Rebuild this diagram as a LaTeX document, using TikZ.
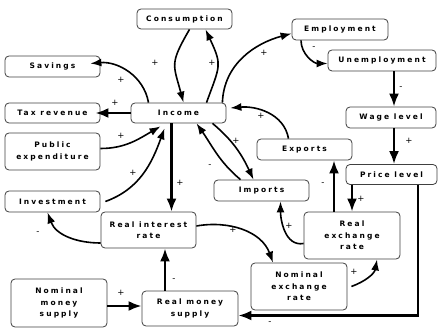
\documentclass[tikz,border=0pt]{standalone}
\usepackage{fontspec}
\usetikzlibrary{arrows.meta}
\newfontfamily\boxfont{DejaVu Sans}[LetterSpace=28]
\newfontfamily\signfont{DejaVu Sans}

\begin{document}
\begin{tikzpicture}[x=1pt,y=-1pt,
  box/.style={draw=black!75,line width=0.8pt,rounded corners=4pt,fill=white,align=center,inner sep=1pt,font=\boxfont\bfseries\fontsize{7.5}{11.5}\selectfont},
  link/.style={line width=1.6pt,-{Latex[length=11pt,width=8pt]}},
  flow/.style={line width=2.4pt,-{Latex[length=13pt,width=10pt]}},
  sign/.style={font=\signfont\fontsize{8.5}{9}\selectfont,inner sep=0pt}]
\useasboundingbox (0,0) rectangle (438,328);
\node[box,minimum width=95pt,minimum height=20pt] (cons) at (184.5,19) {Consumption};
\node[box,minimum width=96pt,minimum height=21pt] (empl) at (340,29.5) {Employment};
\node[box,minimum width=108pt,minimum height=21pt] (unempl) at (382,60.5) {Unemployment};
\node[box,minimum width=90pt,minimum height=21pt] (wage) at (391,117.5) {Wage level};
\node[box,minimum width=91pt,minimum height=20pt] (price) at (391.5,174.5) {Price level};
\node[box,minimum width=95pt,minimum height=21pt] (exports) at (304.5,149.5) {Exports};
\node[box,minimum width=95pt,minimum height=21pt] (savings) at (52.5,66.5) {Savings};
\node[box,minimum width=95pt,minimum height=20pt] (taxrev) at (52.5,113) {Tax revenue};
\node[box,minimum width=95pt,minimum height=20pt] (income) at (178.5,113) {Income};
\node[box,minimum width=95pt,minimum height=37pt] (pubexp) at (52.5,151.5) {Public\\expenditure};
\node[box,minimum width=95pt,minimum height=21pt] (invest) at (52.5,201.5) {Investment};
\node[box,minimum width=95pt,minimum height=36pt] (rir) at (148.5,230) {Real interest\\rate};
\node[box,minimum width=95pt,minimum height=21pt] (imports) at (261.5,190.5) {Imports};
\node[box,minimum width=96pt,minimum height=47pt] (rer) at (352,235.5) {Real\\exchange\\rate};
\node[box,minimum width=96pt,minimum height=47pt] (ner) at (299,286.5) {Nominal\\exchange\\rate};
\node[box,minimum width=96pt,minimum height=48pt] (nms) at (59,303) {Nominal\\money\\supply};
\node[box,minimum width=96pt,minimum height=35pt] (rms) at (190,308.5) {Real money\\supply};

\draw[link] ([xshift=5pt]cons.south) to[out=240,in=105,looseness=1.4] ([xshift=5pt]income.north);
\draw[link] ([xshift=28pt]income.north) to[out=70,in=-65,looseness=1.4] ([xshift=21pt]cons.south);
\draw[link] ([xshift=-4pt]income.north east) to[out=88,in=195] ([yshift=-4pt]empl.west);
\draw[link] ([xshift=-39pt]empl.south) to[out=-90,in=180] ([yshift=-3pt]unempl.west);
\draw[flow] ([xshift=3pt]wage.north |- unempl.south) -- ([xshift=3pt]wage.north);
\draw[flow] ([xshift=3pt]wage.south) -- ([xshift=3pt]wage.south |- price.north);
\draw[flow] (rer.north |- price.south) -- (rer.north);
\draw[flow] ([xshift=26.5pt]price.south) |- ([yshift=-7pt]rms.east);
\draw[flow] ([xshift=-18pt]rer.north) -- ([xshift=-18pt]rer.north |- exports.south);
\draw[link] ([xshift=-16pt]exports.north) to[out=100,in=5] ([xshift=4pt,yshift=5pt]income.east);
\draw[link] ([xshift=34pt]income.south) to[out=-40,in=115] ([xshift=-8pt]imports.north);
\draw[link] ([xshift=-21pt]imports.north) to[out=140,in=-55] ([xshift=18pt]income.south);
\draw[link] ([yshift=-8pt]rer.west) to[out=190,in=-90] ([xshift=19pt]imports.south);
\draw[link] ([xshift=4pt]ner.east) to[out=20,in=-100] ([xshift=25pt]rer.south);
\draw[link] ([yshift=4pt]rir.east) to[out=10,in=110] ([xshift=-26pt]ner.north);
\draw[flow] ([xshift=-7pt]income.south) -- ([xshift=-7pt]income.south |- rir.north);
\draw[link] ([yshift=-13pt]rir.west) to[out=180,in=-70] ([xshift=-5pt]invest.south);
\draw[link] ([xshift=5pt]invest.east) to[out=20,in=-110] ([xshift=-14pt,yshift=-5pt]income.south);
\draw[link] ([yshift=3pt]pubexp.east) to[out=0,in=-150] ([xshift=-18pt,yshift=-3pt]income.south);
\draw[flow] (income.west) -- ([xshift=-5pt]taxrev.east);
\draw[link] ([xshift=-30pt]income.north) to[out=100,in=5] ([xshift=-10pt,yshift=3pt]savings.east);
\draw[flow] ([xshift=-25pt]rms.north) -- ([xshift=-25pt]rms.north |- rir.south);
\draw[flow] ([yshift=-3pt]nms.east) -- ([yshift=-3pt]nms.east -| rms.west);

\node[sign] (s1) at (155,63) {+};
\node[sign] (s2) at (212,63) {+};
\node[sign] (s3) at (264,53) {+};
\node[sign] (s4) at (314,48) {-};
\node[sign] (s5) at (401,88) {-};
\node[sign] (s6) at (409,141) {+};
\node[sign] (s7) at (361,199) {+};
\node[sign] (s8) at (323,184) {-};
\node[sign] (s9) at (261,116) {+};
\node[sign] (s10) at (236,141) {+};
\node[sign] (s11) at (210,166) {-};
\node[sign] (s12) at (289,226) {+};
\node[sign] (s13) at (354,272) {+};
\node[sign] (s14) at (233,230) {+};
\node[sign] (s15) at (180,183) {+};
\node[sign] (s16) at (38,233) {-};
\node[sign] (s17) at (133,173) {+};
\node[sign] (s18) at (121,136) {+};
\node[sign] (s19) at (115,103) {+};
\node[sign] (s20) at (121,80) {+};
\node[sign] (s21) at (174,280) {-};
\node[sign] (s22) at (121,293) {+};
\node[sign] (s23) at (270,323) {-};
\end{tikzpicture}
\end{document}
